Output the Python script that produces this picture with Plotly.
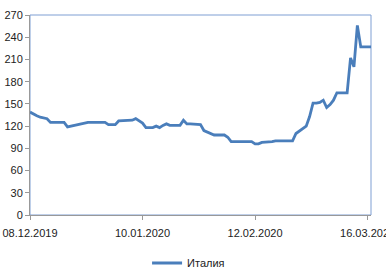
import plotly.graph_objects as go
import pandas as pd

start_date = "2019-12-08"
values = [139, 136, 134, 132, 131, 130, 125, 125, 125, 125,
          125, 119, 120, 122, 122, 123, 125, 125, 125, 125,
          125, 125, 125, 122, 122, 122, 127, 127, 127, 127,
          128, 130, 127, 124, 118, 118, 118, 120, 118, 121,
          123, 121, 121, 121, 121, 128, 123, 123, 123, 123,
          122, 114, 112, 109, 108, 108, 108, 108, 105, 99,
          99, 99, 99, 99, 99, 99, 96, 96, 98, 98,
          99, 99, 100, 100, 100, 100, 100, 100, 110, 113,
          117, 120, 133, 151, 151, 152, 155, 145, 149, 155,
          165, 165, 165, 165, 212, 200, 256, 227, 227, 227, 227]
series_name = "Италия"
tick_dates = ["2019-12-08", "2020-01-10", "2020-02-12", "2020-03-16"]
tick_labels = ["08.12.2019", "10.01.2020", "12.02.2020", "16.03.2020"]
y_ticks = list(range(0, 271, 30))

dates = pd.date_range(start_date, periods=len(values), freq="D")

fig = go.Figure()
fig.add_trace(go.Scatter(x=dates, y=values, mode="lines", name=series_name,
                         line=dict(color="#4A7EBB", width=2.8)))

fig.update_layout(
    width=386, height=274,
    margin=dict(l=30, r=15, t=15, b=59, autoexpand=False),
    paper_bgcolor="white", plot_bgcolor="white",
    font=dict(family="Liberation Sans, Arial, sans-serif", size=11, color="#222"),
    showlegend=True,
    legend=dict(orientation="h", x=0.465, xanchor="center",
                y=-0.24, yanchor="middle",
                font=dict(size=11), itemwidth=30),
    xaxis=dict(type="date", range=[dates[0], dates[-1]],
               tickvals=tick_dates, ticktext=tick_labels,
               showgrid=False, zeroline=False, automargin=False,
               ticklabeloverflow="allow", ticklabelstandoff=4,
               showline=True, linecolor="#999", linewidth=1,
               ticks="outside", ticklen=4, tickcolor="#999"),
    yaxis=dict(range=[0, 270], tickvals=y_ticks, automargin=False,
               showgrid=False, zeroline=False,
               showline=True, linecolor="#999", linewidth=1,
               ticks="outside", ticklen=4, tickcolor="#999"),
    shapes=[dict(type="rect", xref="paper", yref="paper", x0=0, x1=1, y0=0, y1=1,
                 line=dict(color="#7F9FD3", width=1), layer="below")],
)

fig.write_html("out.html", config={"displayModeBar": False},
               post_script="document.body.style.margin='0';")
